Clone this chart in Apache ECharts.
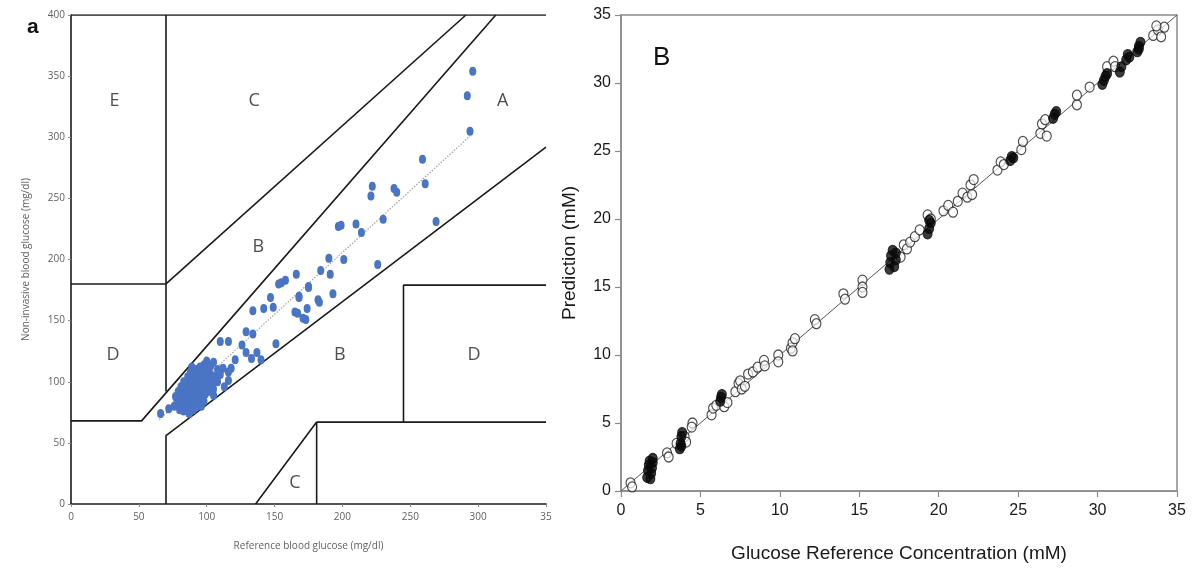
<!DOCTYPE html>
<html>
<head>
<meta charset="utf-8">
<title>Clarke error grid and prediction plot</title>
<script src="https://cdn.jsdelivr.net/npm/echarts@6/dist/echarts.min.js"></script>
<style>
  html, body { margin: 0; padding: 0; background: #fff; }
  #chart { width: 1199px; height: 569px; }
</style>
</head>
<body>
<div id="chart"></div>
<script>
// ---- left panel (a): Clarke error grid, mg/dl ----
var xTicksA = [0, 50, 100, 150, 200, 250, 300, 350];
var yTicksA = [0, 50, 100, 150, 200, 250, 300, 350, 400];

// zone boundaries, each one a polyline
var gridLines = [
  [[0, 400], [350, 400]],
  [[0, 180], [70, 180]],
  [[70, 92], [70, 400]],
  [[70, 180], [291, 400]],
  [[0, 68], [52, 68], [313, 400]],
  [[70, 0], [70, 56], [350, 292]],
  [[136, 0], [181, 67], [181, 0]],
  [[181, 67], [350, 67]],
  [[245, 67], [245, 179], [350, 179]]
];

var zoneNames = ['E', 'C', 'A', 'B', 'D', 'B', 'D', 'C'];
var zoneX = [32, 135, 318, 138, 31, 198, 297, 165];
var zoneY = [330, 330, 330, 210, 122, 122, 122, 17];

var trendLine = [[65, 69], [294, 301]];

var glucosePoints = [
  [296, 354], [292, 334], [294, 305], [259, 282], [261, 262], [222, 260], [221, 252],
  [238, 258], [240, 255], [269, 231], [230, 233], [197, 227], [199, 228], [210, 229],
  [214, 222], [201, 200], [226, 196], [190, 201], [184, 191], [191, 188], [166, 188],
  [175, 178], [168, 170], [193, 172], [182, 167], [174, 160], [165, 157], [171, 152],
  [173, 151], [155, 181], [158, 183], [153, 180], [147, 169], [149, 161], [142, 160],
  [134, 158], [168, 169], [175, 177], [167, 156], [183, 165], [151, 131], [129, 141],
  [134, 139], [110, 133], [116, 133], [126, 130], [129, 124], [137, 124], [140, 118],
  [133, 119], [121, 118], [118, 111], [116, 108], [112, 111], [116, 101], [113, 96],
  [101, 101], [100, 93], [105, 89], [97, 90], [66, 74], [72, 78], [87, 74],
  [76, 80], [78, 83], [79, 86], [80, 82], [81, 88], [82, 84], [82, 91], [83, 87],
  [84, 80], [84, 93], [85, 86], [85, 96], [86, 90], [86, 83], [87, 94], [87, 99],
  [88, 87], [88, 92], [89, 96], [89, 101], [90, 84], [90, 90], [90, 105], [91, 93],
  [91, 98], [92, 88], [92, 102], [93, 95], [93, 108], [94, 91], [94, 99], [95, 104],
  [95, 86], [96, 97], [96, 110], [97, 93], [97, 101], [98, 114], [98, 106], [99, 96],
  [100, 103], [100, 117], [101, 110], [102, 99], [102, 107], [103, 113], [104, 105],
  [105, 116], [79, 92], [81, 96], [83, 100], [86, 104], [88, 108], [85, 78], [88, 80],
  [91, 82], [94, 84], [97, 88], [99, 90], [80, 77], [83, 76], [92, 110], [95, 112],
  [93, 80], [101, 92], [104, 98], [106, 104], [77, 88], [89, 112], [96, 80], [98, 84],
  [87, 76], [90, 77], [105, 94], [108, 100], [108, 110], [110, 106]
];

// ---- right panel (B): prediction vs reference, mM ----
var xTicksB = [0, 5, 10, 15, 20, 25, 30, 35];
var yTicksB = [0, 5, 10, 15, 20, 25, 30, 35];
var identityLine = [[0, 0], [35, 35]];

var openPoints = [
  [0.6, 0.6], [0.7, 0.3], [2.9, 2.8], [3.0, 2.5], [3.5, 3.5], [4.0, 4.0], [4.1, 3.6],
  [4.5, 5.0], [4.45, 4.7], [5.7, 5.6], [5.8, 6.1], [6.0, 6.3], [6.5, 6.2], [6.7, 6.5],
  [7.2, 7.3], [7.4, 7.9], [7.5, 8.1], [7.6, 7.5], [7.8, 7.7], [8.0, 8.6], [8.3, 8.75],
  [8.6, 9.1], [9.0, 9.6], [9.05, 9.2], [9.9, 10.0], [9.9, 9.5], [10.7, 10.5], [10.8, 10.9],
  [10.95, 11.2], [10.8, 10.3], [12.2, 12.6], [12.3, 12.3], [14.0, 14.5], [14.1, 14.1],
  [15.2, 15.5], [15.2, 15.0], [15.2, 14.6], [17.6, 17.2], [17.8, 18.1], [18.0, 17.8],
  [18.2, 18.3], [18.5, 18.7], [18.8, 19.2], [19.3, 20.3], [19.5, 20.0], [20.3, 20.6],
  [20.6, 21.0], [20.9, 20.5], [21.2, 21.3], [21.5, 21.9], [21.8, 21.6], [22.0, 22.5],
  [22.2, 22.9], [22.1, 21.8], [23.7, 23.6], [23.9, 24.2], [24.1, 24.0], [25.2, 25.1],
  [25.3, 25.7], [26.4, 26.3], [26.5, 27.0], [26.7, 27.3], [26.8, 26.1], [28.7, 28.4],
  [28.7, 29.1], [29.5, 29.7], [30.6, 31.2], [31.0, 31.6], [31.1, 31.2], [33.5, 33.5],
  [33.8, 33.9], [34.0, 33.4], [34.2, 34.1], [33.7, 34.2]
];

var filledPoints = [
  [1.65, 1.0], [1.7, 1.5], [1.75, 1.9], [1.8, 2.2], [1.9, 1.3], [1.95, 1.7], [2.0, 2.1],
  [2.0, 2.4], [1.85, 0.9], [3.7, 3.1], [3.75, 3.5], [3.8, 4.0], [3.85, 4.3], [3.8, 3.3],
  [6.25, 6.6], [6.3, 6.9], [6.35, 7.1], [16.9, 16.3], [16.95, 16.8], [17.0, 17.3],
  [17.1, 17.7], [17.2, 16.5], [17.3, 17.0], [17.3, 17.5], [19.3, 18.9], [19.4, 19.3],
  [19.5, 19.7], [19.4, 19.9], [24.5, 24.3], [24.6, 24.6], [24.7, 24.5], [27.2, 27.4],
  [27.3, 27.7], [27.4, 27.9], [30.3, 29.9], [30.4, 30.2], [30.5, 30.5], [30.6, 30.7],
  [31.4, 30.8], [31.5, 31.2], [31.8, 31.7], [31.9, 32.1], [32.0, 31.9], [32.5, 32.3],
  [32.6, 32.7], [32.7, 33.0], [32.6, 32.5]
];

var chart = echarts.init(document.getElementById('chart'));

var series = [];

// Clarke grid boundaries
for (var i = 0; i < gridLines.length; i++) {
  series.push({
    type: 'line', xAxisIndex: 0, yAxisIndex: 0,
    data: gridLines[i], symbol: 'none', silent: true,
    lineStyle: { color: '#1a1a1a', width: 1.6 },
    z: 3
  });
}

series.push({
  type: 'line', xAxisIndex: 0, yAxisIndex: 0,
  data: trendLine, symbol: 'none', silent: true,
  lineStyle: { color: '#a8a8a8', width: 1.3, type: [1.5, 1.5] },
  z: 4
});

series.push({
  type: 'scatter', xAxisIndex: 0, yAxisIndex: 0,
  data: glucosePoints, symbol: 'circle', symbolSize: [7, 9],
  itemStyle: { color: '#4a74c4', opacity: 1 },
  z: 5
});

var zoneData = [];
for (var j = 0; j < zoneNames.length; j++) {
  zoneData.push({ name: zoneNames[j], value: [zoneX[j], zoneY[j]] });
}
series.push({
  type: 'scatter', xAxisIndex: 0, yAxisIndex: 0,
  data: zoneData, symbolSize: 0, silent: true,
  label: {
    show: true, position: 'inside', formatter: '{b}',
    fontFamily: 'Open Sans, Liberation Sans, sans-serif', fontSize: 18, color: '#222'
  },
  z: 6
});

// right panel
series.push({
  type: 'line', xAxisIndex: 1, yAxisIndex: 1,
  data: identityLine, symbol: 'none', silent: true,
  lineStyle: { color: '#555', width: 1 },
  z: 2
});
series.push({
  type: 'scatter', xAxisIndex: 1, yAxisIndex: 1,
  data: openPoints, symbol: 'circle', symbolSize: [9, 10],
  itemStyle: { color: 'rgba(255,255,255,0.85)', borderColor: '#222', borderWidth: 1.2 },
  z: 3
});
series.push({
  type: 'scatter', xAxisIndex: 1, yAxisIndex: 1,
  data: filledPoints, symbol: 'circle', symbolSize: [9, 10],
  itemStyle: { color: '#0a0a0a', borderColor: '#0a0a0a', borderWidth: 1 },
  z: 4
});

var grayLabel = { color: '#5f5f5f', fontSize: 10, fontFamily: 'Open Sans, Liberation Sans, sans-serif' };
var narrowFont = 'Liberation Sans Narrow, Arial Narrow, Liberation Sans, Arial, sans-serif';

var option = {
  animation: false,
  backgroundColor: '#fff',
  title: [
    { text: 'a', left: 22, top: 12,
      textStyle: { fontSize: 21, fontWeight: 'bold', color: '#111', fontFamily: 'Liberation Sans, Arial, sans-serif' } },
    { text: 'B', left: 648, top: 40,
      textStyle: { fontSize: 26, fontWeight: 'normal', color: '#111', fontFamily: 'Liberation Sans, Arial, sans-serif' } }
  ],
  grid: [
    { left: 71, top: 15, width: 475, height: 489 },
    { left: 621, top: 15, width: 556, height: 476, show: true, borderColor: '#8a8a8a', borderWidth: 1.5, backgroundColor: 'transparent' }
  ],
  xAxis: [
    {
      gridIndex: 0, type: 'value', min: xTicksA[0], max: xTicksA[xTicksA.length - 1], interval: 50,
      name: 'Reference blood glucose (mg/dl)', nameLocation: 'middle', nameGap: 37,
      nameTextStyle: grayLabel,
      axisLine: { lineStyle: { color: '#1a1a1a', width: 1.6 } },
      axisTick: { show: true, length: 3, lineStyle: { color: '#888' } },
      axisLabel: Object.assign({ margin: 8, formatter: function (v) { return v === 350 ? '35' : String(v); } }, grayLabel),
      splitLine: { show: false }
    },
    {
      gridIndex: 1, type: 'value', min: xTicksB[0], max: xTicksB[xTicksB.length - 1], interval: 5,
      name: 'Glucose Reference Concentration (mM)', nameLocation: 'middle', nameGap: 53,
      nameTextStyle: { color: '#1a1a1a', fontSize: 19, fontFamily: narrowFont },
      axisLine: { lineStyle: { color: '#8a8a8a', width: 1.5 } },
      axisTick: { show: true, length: 6, lineStyle: { color: '#8a8a8a', width: 1.2 } },
      axisLabel: { color: '#1a1a1a', fontSize: 16, margin: 12, fontFamily: narrowFont },
      splitLine: { show: false }
    }
  ],
  yAxis: [
    {
      gridIndex: 0, type: 'value', min: yTicksA[0], max: yTicksA[yTicksA.length - 1], interval: 50,
      name: 'Non-invasive blood glucose (mg/dl)', nameLocation: 'middle', nameGap: 40,
      nameTextStyle: grayLabel,
      axisLine: { show: true, lineStyle: { color: '#1a1a1a', width: 1.6 } },
      axisTick: { show: true, length: 3, lineStyle: { color: '#888' } },
      axisLabel: Object.assign({ margin: 6 }, grayLabel),
      splitLine: { show: false }
    },
    {
      gridIndex: 1, type: 'value', min: yTicksB[0], max: yTicksB[yTicksB.length - 1], interval: 5,
      name: 'Prediction (mM)', nameLocation: 'middle', nameGap: 42,
      nameTextStyle: { color: '#1a1a1a', fontSize: 19, fontFamily: narrowFont },
      axisLine: { show: true, lineStyle: { color: '#8a8a8a', width: 1.5 } },
      axisTick: { show: true, length: 6, lineStyle: { color: '#8a8a8a', width: 1.2 } },
      axisLabel: { color: '#1a1a1a', fontSize: 16, margin: 10, fontFamily: narrowFont },
      splitLine: { show: false }
    }
  ],
  series: series
};

chart.setOption(option);
</script>
</body>
</html>
